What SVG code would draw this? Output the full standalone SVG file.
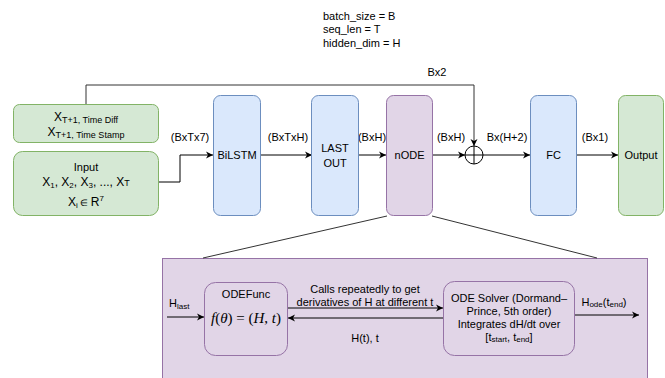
<svg xmlns="http://www.w3.org/2000/svg" width="665" height="378" viewBox="0 0 665 378">
<defs>
<style>
text{font-family:"Liberation Sans",Arial,sans-serif;font-size:11px;fill:#000;}
.m{text-anchor:middle;}
.blue{fill:#dae8fc;stroke:#6c8ebf;stroke-width:1;}
.green{fill:#d5e8d4;stroke:#82b366;stroke-width:1;}
.purple{fill:#e1d5e7;stroke:#9673a6;stroke-width:1;}
.ln{fill:none;stroke:#000;stroke-width:1;}
.gl{fill:none;stroke:#333;stroke-width:1;}
.sub{font-size:8px;}
.math{font-family:"Liberation Serif","Times New Roman",serif;font-size:15px;}
</style>
<marker id="arr" markerWidth="8" markerHeight="8" refX="7" refY="4" orient="auto" markerUnits="userSpaceOnUse">
<path d="M0,0.5 L7,4 L0,7.5 L2,4 z" fill="#000"/>
</marker>
</defs>
<rect width="665" height="378" fill="#fff"/>

<g id="legend">
<text x="323" y="20">batch_size = B</text>
<text x="323" y="33">seq_len = T</text>
<text x="323" y="47">hidden_dim = H</text>
</g>

<g id="ode-panel">
<rect class="purple" x="162.5" y="258.5" width="485" height="125"/>
</g>

<g id="connectors">
<polyline class="ln" points="158,182 180,182 180,155 213,155" marker-end="url(#arr)"/>
<line class="ln" x1="260" y1="155" x2="312" y2="155" marker-end="url(#arr)"/>
<line class="ln" x1="358" y1="155" x2="386" y2="155" marker-end="url(#arr)"/>
<line class="ln" x1="433" y1="155" x2="465" y2="155" marker-end="url(#arr)"/>
<polyline class="gl" points="86,104 86,85 474,85 474,146" marker-end="url(#arr)"/>
<line class="ln" x1="483" y1="155" x2="530" y2="155" marker-end="url(#arr)"/>
<line class="ln" x1="577" y1="155" x2="618" y2="155" marker-end="url(#arr)"/>
<line class="gl" x1="387" y1="216" x2="203" y2="258"/>
<line class="gl" x1="432" y1="216" x2="597" y2="258"/>
<line class="ln" x1="167" y1="317" x2="204" y2="317" marker-end="url(#arr)"/>
<line class="ln" x1="288" y1="308" x2="443" y2="308" marker-end="url(#arr)"/>
<line class="ln" x1="443" y1="318" x2="288" y2="318" marker-end="url(#arr)"/>
<line class="ln" x1="575" y1="315" x2="639" y2="315" marker-end="url(#arr)"/>
<text class="m" x="437" y="76">Bx2</text>
<text class="m" x="190" y="141">(BxTx7)</text>
<text class="m" x="288" y="141">(BxTxH)</text>
<text class="m" x="372" y="141">(BxH)</text>
<text class="m" x="451" y="141">(BxH)</text>
<text class="m" x="507" y="141">Bx(H+2)</text>
<text class="m" x="595" y="141">(Bx1)</text>
<text x="169" y="307">H<tspan class="sub" dy="2">last</tspan></text>
<text class="m" x="365" y="293">Calls repeatedly to get</text>
<text class="m" x="365" y="306">derivatives of H at different t</text>
<text class="m" x="365" y="342">H(t), t</text>
<text class="m" x="604" y="306">H<tspan class="sub" dy="1">ode</tspan><tspan dy="-1">(t</tspan><tspan class="sub" dy="1">end</tspan><tspan dy="-1">)</tspan></text>
</g>

<g id="time-features">
<rect class="green" x="13.5" y="104.5" width="145" height="38" rx="6"/>
<text class="m" x="86" y="121" style="font-size:12px">X<tspan class="sub" style="font-size:9px" dy="2">T+1, Time Diff</tspan></text>
<text class="m" x="86" y="136" style="font-size:12px">X<tspan class="sub" style="font-size:9px" dy="2">T+1, Time Stamp</tspan></text>
</g>

<g id="input">
<rect class="green" x="13.5" y="151.5" width="145" height="64" rx="9"/>
<text class="m" x="86" y="171">Input</text>
<text class="m" x="86" y="186" style="font-size:12px">X<tspan class="sub" dy="2">1</tspan><tspan dy="-2">, X</tspan><tspan class="sub" dy="2">2</tspan><tspan dy="-2">, X</tspan><tspan class="sub" dy="2">3</tspan><tspan dy="-2">, ..., X</tspan><tspan style="font-size:9px">T</tspan></text>
<text class="m" x="86" y="206" style="font-size:12px">X<tspan class="sub" dy="2">i</tspan><tspan dy="-2" style="font-size:9px"> ∈ </tspan><tspan>R</tspan><tspan class="sub" dy="-5">7</tspan></text>
</g>

<g id="bilstm">
<rect class="blue" x="213.5" y="95.5" width="47" height="120" rx="7"/>
<text class="m" x="237" y="159">BiLSTM</text>
</g>

<g id="last-out">
<rect class="blue" x="311.5" y="95.5" width="47" height="120" rx="7"/>
<text class="m" x="335" y="152">LAST</text>
<text class="m" x="335" y="167">OUT</text>
</g>

<g id="node">
<rect class="purple" x="386.5" y="95.5" width="46" height="120" rx="7"/>
<text class="m" x="409.5" y="159">nODE</text>
</g>

<g id="concat">
<circle cx="474" cy="155" r="9" fill="#fff" stroke="#000"/>
<line class="ln" x1="465" y1="155" x2="483" y2="155"/>
<line class="ln" x1="474" y1="146" x2="474" y2="164"/>
</g>

<g id="fc">
<rect class="blue" x="530.5" y="95.5" width="46" height="120" rx="7"/>
<text class="m" x="553.5" y="159">FC</text>
</g>

<g id="output">
<rect class="green" x="618.5" y="95.5" width="45" height="120" rx="7"/>
<text class="m" x="641" y="159">Output</text>
</g>

<g id="odefunc">
<rect class="purple" x="204.5" y="282.5" width="83" height="73" rx="11"/>
<text class="m" x="246" y="298">ODEFunc</text>
<text class="m math" x="246" y="323"><tspan font-style="italic">f</tspan>(<tspan font-style="italic">θ</tspan>) = (<tspan font-style="italic">H</tspan>, <tspan font-style="italic">t</tspan>)</text>
</g>

<g id="ode-solver">
<rect class="purple" x="443.5" y="281.5" width="131" height="74" rx="11"/>
<text class="m" x="509" y="302">ODE Solver (Dormand–</text>
<text class="m" x="509" y="315">Prince, 5th order)</text>
<text class="m" x="509" y="328">Integrates dH/dt over</text>
<text class="m" x="509" y="341">[t<tspan class="sub" dy="1">start</tspan><tspan dy="-1">, t</tspan><tspan class="sub" dy="1">end</tspan><tspan dy="-1">]</tspan></text>
</g>
</svg>
